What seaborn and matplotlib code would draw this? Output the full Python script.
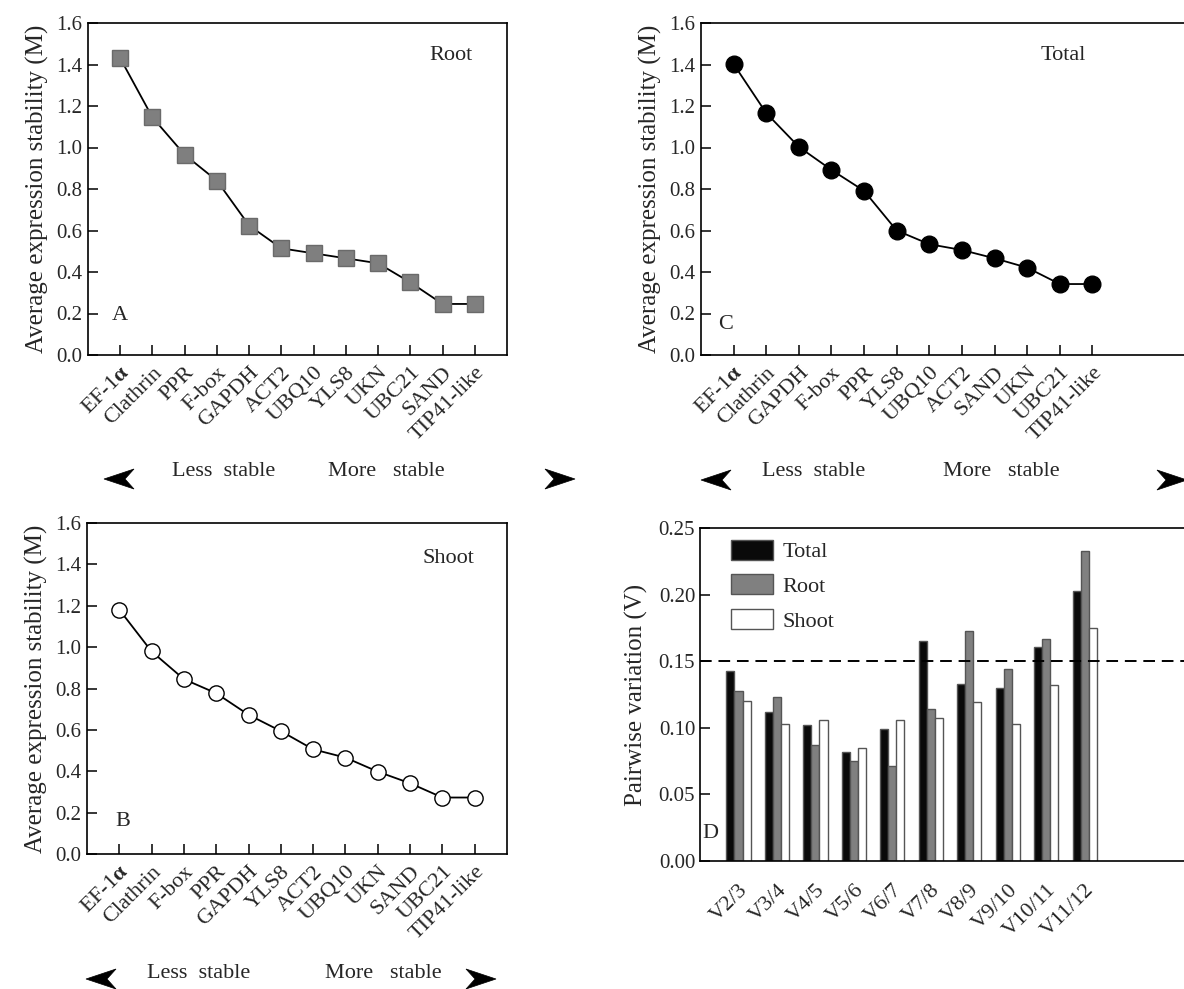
import numpy as np
import pandas as pd
import matplotlib
matplotlib.use("Agg")
import matplotlib.pyplot as plt
from matplotlib.patches import Polygon
import seaborn as sns

sns.set_theme(style="white")
plt.rcParams['font.family'] = ['Liberation Serif', 'DejaVu Serif']
plt.rcParams['mathtext.fontset'] = 'custom'
plt.rcParams['mathtext.rm'] = 'Liberation Serif'
plt.rcParams['mathtext.bf'] = 'Liberation Serif:bold'
plt.rcParams['mathtext.it'] = 'Liberation Serif:italic'

EF = 'EF-1$\\mathbf{α}$'

# Panel A: Root
root_genes = [EF, 'Clathrin', 'PPR', 'F-box', 'GAPDH', 'ACT2', 'UBQ10', 'YLS8', 'UKN', 'UBC21', 'SAND', 'TIP41-like']
root_m = [1.43, 1.145, 0.965, 0.84, 0.624, 0.514, 0.49, 0.466, 0.442, 0.35, 0.246, 0.246]

# Panel B: Shoot
shoot_genes = [EF, 'Clathrin', 'F-box', 'PPR', 'GAPDH', 'YLS8', 'ACT2', 'UBQ10', 'UKN', 'SAND', 'UBC21', 'TIP41-like']
shoot_m = [1.181, 0.979, 0.845, 0.777, 0.673, 0.594, 0.506, 0.466, 0.398, 0.342, 0.273, 0.273]

# Panel C: Total
total_genes = [EF, 'Clathrin', 'GAPDH', 'F-box', 'PPR', 'YLS8', 'UBQ10', 'ACT2', 'SAND', 'UKN', 'UBC21', 'TIP41-like']
total_m = [1.402, 1.166, 1.003, 0.892, 0.791, 0.600, 0.534, 0.506, 0.466, 0.421, 0.342, 0.342]

# Panel D: pairwise variation
pairs = ['V2/3', 'V3/4', 'V4/5', 'V5/6', 'V6/7', 'V7/8', 'V8/9', 'V9/10', 'V10/11', 'V11/12']
v_total = [0.143, 0.112, 0.102, 0.082, 0.099, 0.165, 0.133, 0.130, 0.161, 0.203]
v_root = [0.128, 0.123, 0.087, 0.075, 0.071, 0.114, 0.173, 0.144, 0.167, 0.233]
v_shoot = [0.120, 0.103, 0.106, 0.085, 0.106, 0.107, 0.119, 0.103, 0.132, 0.175]
series_names = ['Total', 'Root', 'Shoot']

W, H = 1184, 989
fig = plt.figure(figsize=(W / 100, H / 100), dpi=100)


def px_axes(left, top, right, bottom):
    return fig.add_axes([left / W, 1 - bottom / H, (right - left) / W, (bottom - top) / H])


FS = 16     # general text
FT = 15     # y tick labels
FX = 16     # rotated x tick labels
FY = 18     # y axis labels


def m_panel(ax, genes, vals, marker, mfc, ms, xlim, label, letter, lab_xy, let_xy, mec='black'):
    df = pd.DataFrame({'gene': genes, 'M': vals})
    sns.pointplot(data=df, x='gene', y='M', order=genes, ax=ax, color='black',
                  marker=marker, markersize=ms, markerfacecolor=mfc,
                  markeredgecolor=mec, markeredgewidth=1.0, linewidth=1.3, errorbar=None)
    ax.set_xlim(*xlim)
    ax.set_ylim(0, 1.6)
    ax.set_yticks(np.arange(0, 1.61, 0.2))
    ax.set_yticklabels([f'{v:.1f}' for v in np.arange(0, 1.61, 0.2)], fontsize=FT)
    ax.set_xticks(range(len(genes)))
    ax.set_xticklabels(genes, rotation=45, ha='right', rotation_mode='anchor', fontsize=FX)
    ax.tick_params(axis='both', direction='in', length=7, width=1.1, color='black',
                   left=True, bottom=True, pad=4)
    ax.tick_params(axis='x', pad=6)
    ax.set_xlabel('')
    ax.set_ylabel('Average expression stability (M)', fontsize=FY, labelpad=5)
    for s in ax.spines.values():
        s.set_color('black')
        s.set_linewidth(1.2)
    ax.text(*lab_xy, label, fontsize=FS, ha='center', va='center')
    ax.text(*let_xy, letter, fontsize=FS, ha='center', va='center')


axA = px_axes(88, 23, 507, 355)
m_panel(axA, root_genes, root_m, 's', '#7f7f7f', 11, (-1, 12), 'Root', 'A', (10.25, 1.445), (0.0, 0.19),
        mec='#6a6a6a')

axB = px_axes(87, 523, 507, 854)
m_panel(axB, shoot_genes, shoot_m, 'o', 'white', 11, (-1, 12), 'Shoot', 'B', (10.2, 1.43), (0.1, 0.155))

axC = px_axes(701, 23, 1200, 355)
m_panel(axC, total_genes, total_m, 'o', 'black', 12, (-1, 14.3), 'Total', 'C', (10.1, 1.445), (-0.25, 0.145))

# Panel D
axD = px_axes(700, 528, 1200, 861)
dfD = pd.DataFrame({
    'pair': pairs * 3,
    'V': v_total + v_root + v_shoot,
    'set': sum([[n] * len(pairs) for n in series_names], []),
})
palette = {'Total': '#0a0a0a', 'Root': '#808080', 'Shoot': '#ffffff'}
sns.barplot(data=dfD, x='pair', y='V', hue='set', order=pairs, hue_order=series_names,
            palette=palette, width=0.63, gap=0, edgecolor='#555555', linewidth=1.0,
            errorbar=None, ax=axD, saturation=1)
axD.set_xlim(-1, 12)
axD.set_ylim(0, 0.25)
yt = np.arange(0, 0.251, 0.05)
axD.set_yticks(yt)
axD.set_yticklabels([f'{v:.2f}' for v in yt], fontsize=FT)
axD.set_xticks(range(len(pairs)))
axD.set_xticklabels(pairs, rotation=45, ha='right', rotation_mode='anchor', fontsize=FX)
axD.tick_params(axis='y', direction='in', length=7, width=1.1, left=True, color='black')
axD.tick_params(axis='x', bottom=False, pad=8)
axD.set_xlabel('')
axD.set_ylabel('Pairwise variation (V)', fontsize=FY, labelpad=8)
axD.axhline(0.15, color='black', linestyle=(0, (6, 3.5)), linewidth=1.4)
for s in axD.spines.values():
    s.set_color('black')
    s.set_linewidth(1.2)
axD.text(-0.74, 0.021, 'D', fontsize=FS, ha='center', va='center')
axD.legend(title=None, loc='upper left', bbox_to_anchor=(0.062, 0.965), frameon=False,
           fontsize=FS, handlelength=1.9, handleheight=1.0, labelspacing=0.55,
           handletextpad=0.4, borderaxespad=0, borderpad=0)


# arrows and stability text
def ftext(x, y, s, **kw):
    fig.text(x / W, 1 - y / H, s, **kw)


def arrowhead(xc, yc, direction, w=30, h=20, notch=9):
    # concave arrowhead, drawn in figure pixel coordinates
    d = 1 if direction > 0 else -1
    pts = [(xc + d * w / 2, yc), (xc - d * w / 2, yc - h / 2),
           (xc - d * w / 2 + d * notch, yc), (xc - d * w / 2, yc + h / 2)]
    pts = [(px / W, 1 - py / H) for px, py in pts]
    fig.patches.append(Polygon(pts, closed=True, transform=fig.transFigure,
                               facecolor='black', edgecolor='black', linewidth=0.5))


def arrows(y_arrow, y_text, xl, xr, less_x, more_x):
    arrowhead(xl, y_arrow, -1)
    arrowhead(xr, y_arrow, 1)
    ftext(less_x, y_text, 'Less  stable', fontsize=FS, ha='left', va='center')
    ftext(more_x, y_text, 'More   stable', fontsize=FS, ha='left', va='center')


arrows(479, 472, 119, 560, 172, 328)
arrows(480, 471, 716, 1172, 762, 943)
arrows(979, 973, 101, 481, 147, 325)

fig.savefig('out.png', dpi=100)
